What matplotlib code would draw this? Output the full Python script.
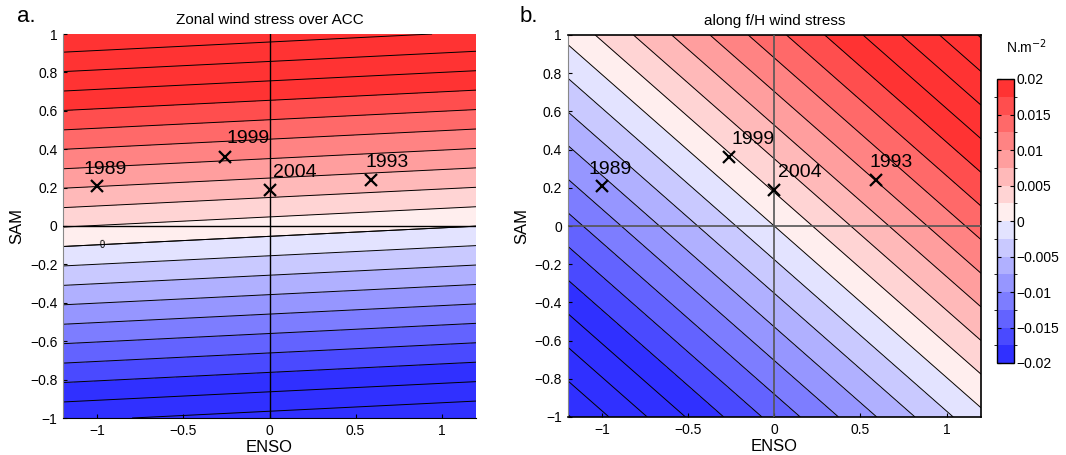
import numpy as np
import matplotlib
matplotlib.use("Agg")
import matplotlib.pyplot as plt
from matplotlib.colors import BoundaryNorm, ListedColormap
from matplotlib.cm import ScalarMappable

plt.rcParams["font.family"] = ["Liberation Sans", "DejaVu Sans"]

# linear wind stress fields (N m^-2) as function of ENSO and SAM
# stress = sam_coef * SAM + enso_coef * ENSO + offset
ZONAL_SAM_COEF = 0.0247
ZONAL_ENSO_COEF = -0.00109
ZONAL_OFFSET = 0.00133

FH_SAM_COEF = 0.0142
FH_ENSO_COEF = 0.01126
FH_OFFSET = 0.0

# years marked on both panels
years = ["1989", "1999", "2004", "1993"]
year_enso = [-1.0, -0.26, 0.0, 0.59]
year_sam = [0.21, 0.36, 0.19, 0.24]
label_dx = [-0.08, 0.01, 0.02, -0.035]
label_dy = [0.085, 0.095, 0.09, 0.09]

levels = np.round(np.arange(-0.03, 0.0301, 0.0025), 6)
cbar_bounds = np.round(np.arange(-0.02, 0.0201, 0.0025), 6)
cbar_ticks = [-0.02, -0.015, -0.01, -0.005, 0, 0.005, 0.01, 0.015, 0.02]
cbar_ticklabels = ["\u22120.02", "\u22120.015", "\u22120.01", "\u22120.005", "0",
                   "0.005", "0.01", "0.015", "0.02"]


def make_cmap():
    # 8 blue steps below zero, 8 red steps above, darkest at the ends
    blues = []
    for k in range(8, 0, -1):
        v = 0.89 - (k - 1) * 0.1
        blues.append((v, v, 1.0))
    reds = []
    for k in range(1, 9):
        v = 0.935 - (k - 1) * 0.105
        reds.append((1.0, v, v))
    cols = blues + reds
    listed = ListedColormap(cols)
    listed.set_over(cols[-1])
    listed.set_under(cols[0])
    return listed


def draw_panel(ax, field, zero_color, zero_lw, cmap, norm, zero_label_at=None):
    enso = np.linspace(-1.2, 1.2, 241)
    sam = np.linspace(-1, 1, 201)
    E, S = np.meshgrid(enso, sam)
    Z = field(E, S)

    ax.contourf(E, S, Z, levels=levels, cmap=cmap, norm=norm)
    ax.contour(E, S, Z, levels=levels, colors="black", linewidths=0.7,
               linestyles="solid")

    if zero_label_at is not None:
        cs0 = ax.contour(E, S, Z, levels=[0.0], colors="black", linewidths=0.7,
                         linestyles="solid")
        ax.clabel(cs0, manual=[zero_label_at], inline=False, fontsize=7,
                  fmt=lambda v: "0")

    ax.axhline(0, color=zero_color, lw=zero_lw, zorder=3)
    ax.axvline(0, color=zero_color, lw=zero_lw, zorder=3)

    for name, x, y, dx, dy in zip(years, year_enso, year_sam, label_dx, label_dy):
        ax.plot(x, y, marker="x", color="black", ms=9, mew=1.6, zorder=5)
        ax.text(x + dx, y + dy, name, fontsize=14, ha="left", va="center", zorder=5)

    ax.set_xlim(-1.2, 1.2)
    ax.set_ylim(-1, 1)
    ax.set_xticks([-1, -0.5, 0, 0.5, 1])
    ax.set_xticklabels(["\u22121", "\u22120.5", "0", "0.5", "1"])
    ax.set_yticks(np.round(np.arange(-1, 1.01, 0.2), 1))
    ax.set_yticklabels(["\u22121", "\u22120.8", "\u22120.6", "\u22120.4", "\u22120.2", "0",
                        "0.2", "0.4", "0.6", "0.8", "1"])
    ax.tick_params(direction="in", length=3, labelsize=10, pad=4)
    ax.set_xlabel("ENSO", fontsize=12, labelpad=2)
    ax.set_ylabel("SAM", fontsize=12, labelpad=4)


fig = plt.figure(figsize=(10.66, 4.55), dpi=100)
cmap = make_cmap()
norm = BoundaryNorm(cbar_bounds, cmap.N)

ax_a = fig.add_axes([63 / 1066, 1 - 418 / 455, 413 / 1066, 384 / 455])
draw_panel(ax_a, lambda E, S: ZONAL_SAM_COEF * S + ZONAL_ENSO_COEF * E + ZONAL_OFFSET,
           "black", 1.0, cmap, norm, zero_label_at=(-0.97, -0.1))
ax_a.set_title("Zonal wind stress over ACC", fontsize=11, pad=7)
ax_a.spines["top"].set_visible(False)
ax_a.spines["right"].set_visible(False)
ax_a.spines["left"].set_color("#888888")

ax_b = fig.add_axes([567.5 / 1066, 1 - 417 / 455, 413.5 / 1066, 382 / 455])
draw_panel(ax_b, lambda E, S: FH_SAM_COEF * S + FH_ENSO_COEF * E + FH_OFFSET,
           "#555555", 1.2, cmap, norm)
ax_b.set_title("along f/H wind stress", fontsize=11, pad=7)
ax_b.spines["left"].set_color("#888888")
for side in ["top", "right", "bottom"]:
    ax_b.spines[side].set_linewidth(1.2)

cax = fig.add_axes([997 / 1066, 1 - 363 / 455, 17 / 1066, 284 / 455])
sm = ScalarMappable(norm=norm, cmap=cmap)
cb = fig.colorbar(sm, cax=cax, ticks=cbar_ticks)
cb.set_ticklabels(cbar_ticklabels)
cb.ax.yaxis.set_ticks_position("both")
cb.ax.tick_params(labelsize=10, length=3, direction="in", pad=2, labelright=True,
                  labelleft=False)
cb.outline.set_linewidth(1.0)
fig.text(1026 / 1066, 1 - 47 / 455, "N.m$^{-2}$", fontsize=10, ha="center", va="center")

fig.text(17 / 1066, 1 - 17 / 455, "a.", fontsize=16, ha="left", va="center")
fig.text(520 / 1066, 1 - 17 / 455, "b.", fontsize=16, ha="left", va="center")

fig.savefig("out.png", dpi=100)
